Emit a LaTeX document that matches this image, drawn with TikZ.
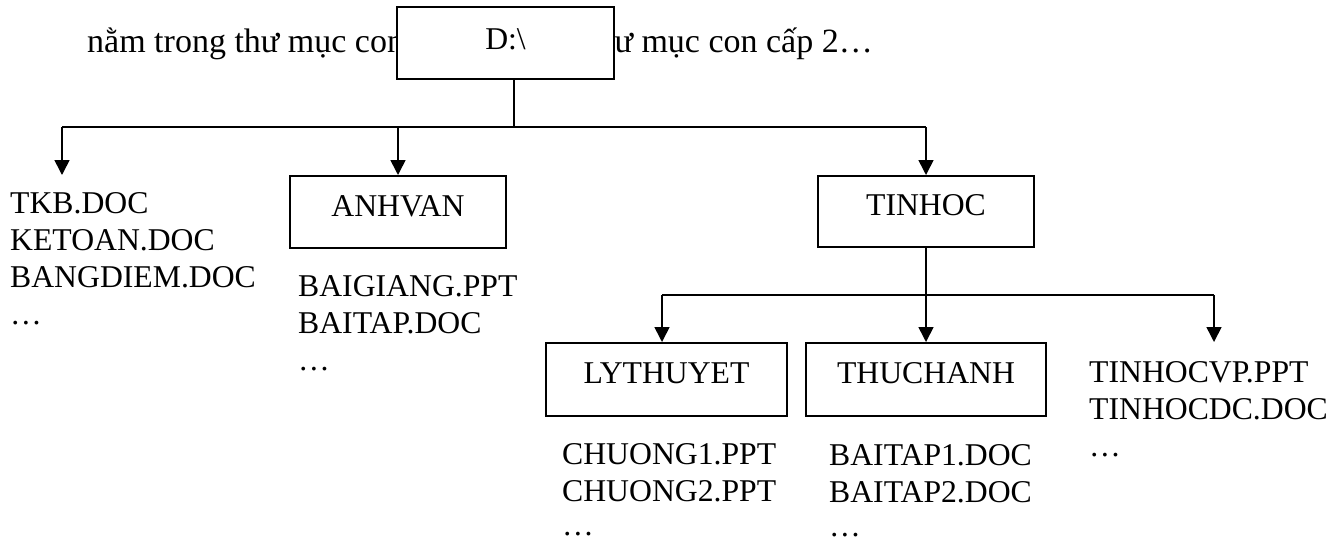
\documentclass[tikz,border=0pt]{standalone}
\usepackage{fontspec}
\setmainfont{Liberation Serif}
\usetikzlibrary{arrows.meta}
\newcommand\diagfont{\fontsize{31.7}{37}\selectfont}
\newcommand\topfont{\fontsize{34}{40}\selectfont}
\begin{document}
\begin{tikzpicture}[x=1pt,y=-1pt,
  box/.style={draw, line width=2pt, rectangle, inner sep=0pt, text height=22pt, text depth=14pt, font=\diagfont},
  file/.style={anchor=base west, inner sep=0pt, font=\diagfont},
  topline/.style={inner sep=0pt, font=\topfont},
  conn/.style={line width=1.6pt},
  arr/.style={line width=1.6pt, -{Triangle[width=15pt,length=15pt]}}]
\useasboundingbox (0,0) rectangle (1343,542);
% top sentence (partly hidden by the D:\ box)
\node[topline, anchor=base west] (t1) at (87,52) {nằm trong thư mục con};
\node[topline, anchor=base east] (t2) at (873,52) {ư mục con cấp 2…};
% boxes
\node[box, fill=white, minimum width=217pt, minimum height=72pt, text depth=10pt] (D) at (505.5,43) {D:\textbackslash};
\node[box, minimum width=216pt, minimum height=72pt] (anh) at (398,212) {ANHVAN};
\node[box, minimum width=216pt, minimum height=71pt] (tin) at (926,211.5) {TINHOC};
\node[box, minimum width=241pt, minimum height=73pt] (ly) at (666.5,379.5) {LYTHUYET};
\node[box, minimum width=240pt, minimum height=73pt] (th) at (926,379.5) {THUCHANH};
% file lists
\node[file] (a1) at (10,213) {TKB.DOC};
\node[file] (a2) at (10,250) {KETOAN.DOC};
\node[file] (a3) at (10,287) {BANGDIEM.DOC};
\node[file] (a4) at (10,324) {…};
\node[file] (b1) at (298,296) {BAIGIANG.PPT};
\node[file] (b2) at (298,333) {BAITAP.DOC};
\node[file] (b3) at (298,370) {…};
\node[file] (c1) at (1089,382) {TINHOCVP.PPT};
\node[file] (c2) at (1089,419) {TINHOCDC.DOC};
\node[file] (c3) at (1089,456) {…};
\node[file] (d1) at (562,464) {CHUONG1.PPT};
\node[file] (d2) at (562,501) {CHUONG2.PPT};
\node[file] (d3) at (562,535) {…};
\node[file] (e1) at (829,465) {BAITAP1.DOC};
\node[file] (e2) at (829,502) {BAITAP2.DOC};
\node[file] (e3) at (829,536) {…};
% connectors level 1
\coordinate (j1) at (514,127);
\coordinate (hl) at (62,127);
\coordinate (hr) at (926,127);
\coordinate (f1) at (62,175);
\draw[conn] (D.south -| j1) -- (j1);
\draw[conn] (hl) -- (hr);
\draw[arr] (hl) -- (f1);
\draw[arr] (anh.north |- hl) -- (anh.north);
\draw[arr] (hr) -- (tin.north);
% connectors level 2
\coordinate (j2) at (926,295);
\coordinate (gl) at (662,295);
\coordinate (gr) at (1214,295);
\coordinate (f2) at (1214,342);
\draw[line width=1.2pt] (tin.south) -- (j2);
\draw[conn] (gl) -- (gr);
\draw[arr] (gl) -- (gl |- ly.north);
\draw[arr] (j2) -- (th.north);
\draw[arr] (gr) -- (f2);
\end{tikzpicture}
\end{document}
